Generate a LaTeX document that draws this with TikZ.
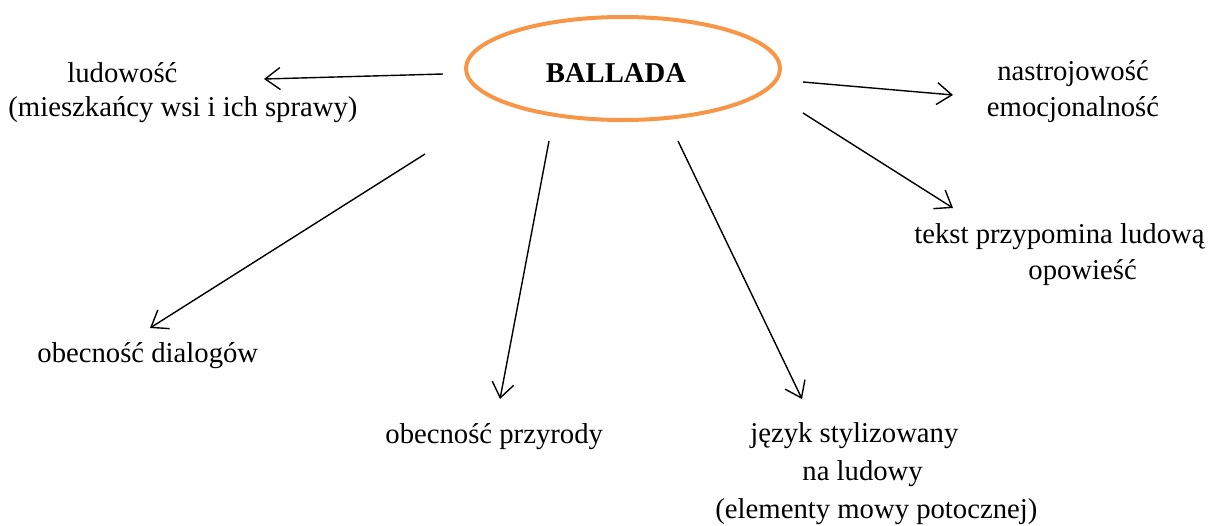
\documentclass[tikz,border=0pt]{standalone}
\usepackage{fontspec}
\setmainfont{Liberation Serif}
\usetikzlibrary{arrows.meta,shapes.geometric}
\definecolor{balorange}{RGB}{247,150,70}
\tikzset{
  txt/.style={inner sep=0pt, anchor=base west, align=left,
    font={\fontsize{14.35pt}{18pt}\selectfont}},
  arr/.style={line width=0.7pt, -{Straight Barb[length=7.5pt,width=11pt,line width=0.7pt]}},
}
\begin{document}
\begin{tikzpicture}[x=0.5pt,y=-0.5pt]
\useasboundingbox (0,0) rectangle (1218,525);
% central ellipse
\node[ellipse, draw=balorange, line width=2pt, inner sep=0pt,
      minimum width=157pt, minimum height=51.5pt] (ballada) at (623,68.5) {};
\node[inner sep=0pt, anchor=base, font={\fontsize{14.35pt}{18pt}\selectfont\bfseries}] (title) at (616,82) {BALLADA};
% text nodes (base = baseline of the last line)
\node[txt] (ludo) at (8,116) {\hspace*{29.5pt}ludowość\\[-1pt](mieszkańcy wsi i ich sprawy)};
\node[txt, anchor=base, align=center] (nastr) at (1073,116) {nastrojowość\\emocjonalność};
\node[txt] (tekst) at (914,279) {tekst przypomina ludową\\\hspace*{57pt}opowieść};
\node[txt] (dial) at (37,362) {obecność dialogów};
\node[txt] (przyr) at (385,443) {obecność przyrody};
\node[txt] (jezyk) at (715,518) {\hspace*{17.5pt}język stylizowany\\[1pt]\hspace*{43.5pt}na ludowy\\[1pt](elementy mowy potocznej)};
% connector end points
\coordinate (sL) at (443,74);   \coordinate (eL) at (264,79);
\coordinate (sR1) at (803,82);  \coordinate (eR1) at (953,95);
\coordinate (sR2) at (803,113); \coordinate (eR2) at (953,208);
\coordinate (sD) at (425,154);  \coordinate (eD) at (150,328);
\coordinate (sP) at (549,141);  \coordinate (eP) at (500,399);
\coordinate (sJ) at (678,141);  \coordinate (eJ) at (802,399);
% connectors
\draw[arr] (sL) -- (eL);
\draw[arr] (sR1) -- (eR1);
\draw[arr] (sR2) -- (eR2);
\draw[arr] (sD) -- (eD);
\draw[arr] (sP) -- (eP);
\draw[arr] (sJ) -- (eJ);
\end{tikzpicture}
\end{document}
